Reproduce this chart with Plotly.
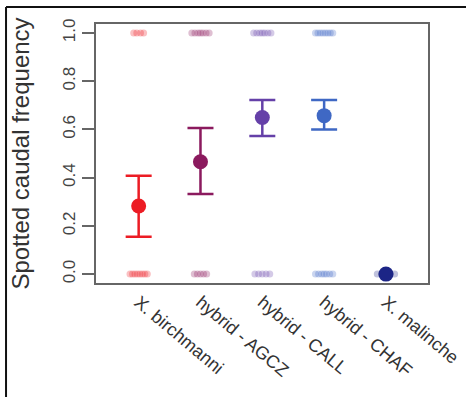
import plotly.graph_objects as go

categories = ["X. birchmanni", "hybrid - AGCZ", "hybrid - CALL", "hybrid - CHAF", "X. malinche"]
cat_pos = [1, 2, 3, 4, 5]
means = [0.282, 0.466, 0.649, 0.657, 0.0]
upper = [0.408, 0.606, 0.722, 0.722, 0.0]
lower = [0.155, 0.332, 0.573, 0.600, 0.0]
colors = ["#ec1c24", "#8b1a5e", "#6540a8", "#3f68c4", "#1c2586"]

# raw observations drawn with horizontal jitter (offsets read from the strips)
jitter_at_1 = [
    [-0.08, -0.03, 0.03, 0.08],
    [-0.14, -0.09, -0.04, 0.0, 0.04, 0.09, 0.14],
    [-0.14, -0.09, -0.04, 0.0, 0.04, 0.09, 0.14],
    [-0.14, -0.1, -0.06, -0.02, 0.02, 0.06, 0.1, 0.14],
    [],
]
jitter_at_0 = [
    [-0.14, -0.1, -0.06, -0.02, 0.02, 0.06, 0.1, 0.14],
    [-0.1, -0.05, 0.0, 0.05, 0.1],
    [-0.12, -0.06, 0.0, 0.06, 0.12],
    [-0.14, -0.09, -0.04, 0.0, 0.04, 0.09, 0.14],
    [-0.14, -0.07, 0.0, 0.07, 0.14],
]
y_ticks = [0.0, 0.2, 0.4, 0.6, 0.8, 1.0]
y_ticklabels = ["0.0", "0.2", "0.4", "0.6", "0.8", "1.0"]

fig = go.Figure()

for i in range(len(categories)):
    xs = [cat_pos[i] + d for d in jitter_at_1[i]] + [cat_pos[i] + d for d in jitter_at_0[i]]
    ys = [1.0] * len(jitter_at_1[i]) + [0.0] * len(jitter_at_0[i])
    fig.add_trace(go.Scatter(
        x=xs, y=ys, mode="markers",
        marker=dict(size=7, color=colors[i], opacity=0.28, line=dict(width=0)),
        showlegend=False, hoverinfo="skip", cliponaxis=False,
    ))

for i in range(len(categories)):
    has_err = upper[i] != lower[i]
    fig.add_trace(go.Scatter(
        x=[cat_pos[i]], y=[means[i]], mode="markers",
        marker=dict(size=15, color=colors[i], line=dict(width=0)),
        error_y=dict(
            type="data", symmetric=False,
            array=[upper[i] - means[i]], arrayminus=[means[i] - lower[i]],
            color=colors[i], thickness=2.5, width=13, visible=has_err,
        ),
        showlegend=False, cliponaxis=False,
    ))

fig.update_layout(
    width=466, height=397,
    margin=dict(l=96, r=38, t=24, b=114, autoexpand=False),
    paper_bgcolor="white", plot_bgcolor="white",
    font=dict(family="Liberation Sans, Arial, sans-serif", color="#333333"),
    xaxis=dict(
        range=[0.31, 5.68], tickvals=cat_pos, ticktext=categories,
        tickangle=40, tickfont=dict(size=18, color="#333333"), automargin=False,
        showgrid=False, zeroline=False, ticks="",
        showline=True, mirror=True, linecolor="#666666", linewidth=1.5,
    ),
    yaxis=dict(
        range=[-0.037, 1.037], tickvals=y_ticks, ticktext=y_ticklabels,
        tickangle=-90, tickfont=dict(size=17, color="#444444"), automargin=False,
        ticks="outside", ticklen=12, tickcolor="#666666", tickwidth=1.5,
        showgrid=False, zeroline=False,
        showline=True, mirror=True, linecolor="#666666", linewidth=1.5,
        title=dict(text="Spotted caudal frequency", font=dict(size=24, color="#333333"), standoff=24),
    ),
    shapes=[
        dict(type="line", xref="paper", yref="paper", x0=-0.271, x1=1.2, y0=1.066, y1=1.066,
             line=dict(color="#111111", width=2)),
        dict(type="line", xref="paper", yref="paper", x0=-0.271, x1=-0.271, y0=1.066, y1=-0.5,
             line=dict(color="#111111", width=2)),
    ],
)

fig.write_html(
    "out.html",
    config={"displayModeBar": False},
    post_script="document.body.style.margin='0';document.body.style.overflow='hidden';",
)
